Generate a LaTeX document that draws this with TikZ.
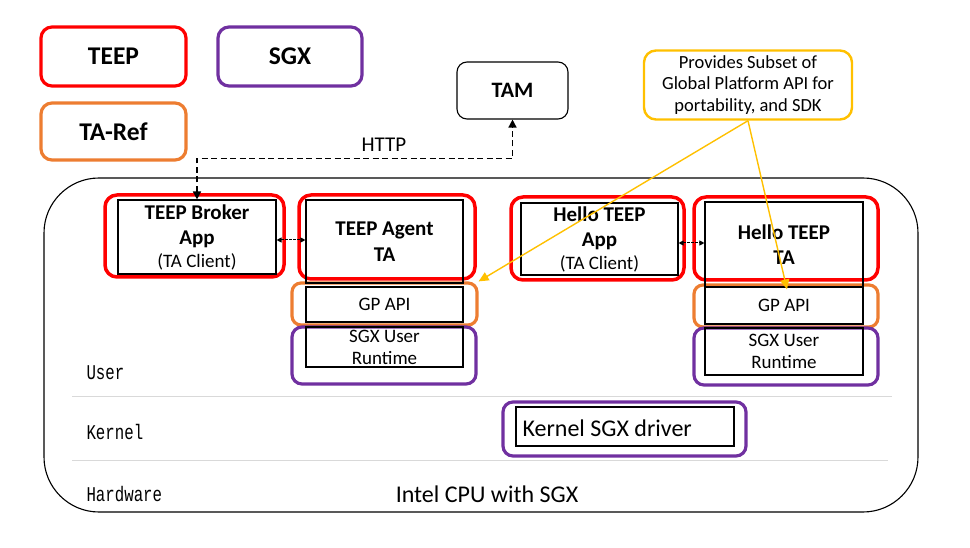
\documentclass[tikz,border=0pt]{standalone}
\usepackage{fontspec}
\setmainfont{Carlito}
\newfontfamily\lblfont[FakeStretch=0.75]{Liberation Mono}
\usetikzlibrary{arrows.meta}
\definecolor{teepred}{RGB}{255,0,0}
\definecolor{sgxpurple}{RGB}{112,48,160}
\definecolor{taorange}{RGB}{237,125,49}
\definecolor{noteyellow}{RGB}{255,192,0}
\definecolor{sepgray}{RGB}{217,217,217}
\tikzset{
  legendbox/.style={draw, rounded corners=11pt, line width=3.2pt, inner sep=0pt, font=\bfseries\fontsize{25.5}{30}\selectfont},
  redbox/.style={draw=teepred, rounded corners=12pt, line width=3.5pt, inner sep=0pt},
  orangebox/.style={draw=taorange, rounded corners=9pt, line width=3.2pt, inner sep=0pt},
  purplebox/.style={draw=sgxpurple, rounded corners=10pt, line width=3.2pt, inner sep=0pt},
  innerbox/.style={draw, line width=1.1pt, inner sep=0pt, align=center},
  titlefont/.style={font=\bfseries\fontsize{21}{25.5}\selectfont},
  bodyfont/.style={font=\fontsize{19}{22}\selectfont},
  lbl/.style={anchor=west, font=\lblfont\fontsize{21}{24}\selectfont},
  notearrow/.style={draw=noteyellow, line width=1.4pt, -{Triangle[length=10pt,width=9pt]}},
  linkarrow/.style={dash pattern=on 2.5pt off 1.5pt, line width=1pt, {Triangle[length=5pt,width=5pt]}-{Triangle[length=5pt,width=5pt]}},
}
\begin{document}
\begin{tikzpicture}[x=1pt,y=-1pt]
\useasboundingbox (0,0) rectangle (970,548);
% legend
\node[legendbox, draw=teepred, minimum width=145pt, minimum height=59pt] (lteep) at (113.5,56.5) {TEEP};
\node[legendbox, draw=sgxpurple, minimum width=144pt, minimum height=59pt] (lsgx) at (290,56.5) {SGX};
\node[legendbox, draw=taorange, minimum width=145pt, minimum height=57pt] (ltaref) at (113.5,131.5) {TA-Ref};
% TAM
\node[draw, rounded corners=10pt, line width=1.1pt, minimum width=111pt, minimum height=57pt, font=\bfseries\fontsize{22}{26}\selectfont] (tam) at (512.5,90.5) {TAM};
% note
\node[draw=noteyellow, rounded corners=12pt, line width=2.4pt, minimum width=208pt, minimum height=69pt, inner sep=0pt, align=center, font=\fontsize{18.5}{21.5}\selectfont] (note) at (748,85) {Provides Subset of\\Global Platform API for\\portability, and SDK};
% platform
\node[draw, rounded corners=55pt, line width=1.1pt, minimum width=874pt, minimum height=334pt] (platform) at (481,345) {};
\coordinate (s1a) at (72,396); \coordinate (s1b) at (892,396);
\coordinate (s2a) at (72,460); \coordinate (s2b) at (888,460);
\draw[sepgray, line width=1pt] (s1a) -- (s1b);
\draw[sepgray, line width=1pt] (s2a) -- (s2b);
\node[lbl] (luser) at (83,373) {User};
\node[lbl] (lkernel) at (83,432) {Kernel};
\node[lbl] (lhw) at (83,494) {Hardware};
\node[font=\fontsize{24}{28}\selectfont] (cpu) at (487,494) {Intel CPU with SGX};
% left stack
\node[redbox, minimum width=179pt, minimum height=82pt] (brokero) at (194.5,236) {};
\node[innerbox, titlefont, minimum width=158pt, minimum height=74pt] (brokerin) at (197,237) {TEEP Broker\\App\\[-3pt]\mdseries\fontsize{19}{22}\selectfont (TA Client)};
\node[redbox, minimum width=176pt, minimum height=84pt] (agento) at (387,237) {};
\node[orangebox, minimum width=185pt, minimum height=42pt] (gp1o) at (384.5,304) {};
\node[purplebox, minimum width=184pt, minimum height=57pt] (sgx1o) at (384,355.5) {};
\node[innerbox, titlefont, minimum width=157pt, minimum height=83pt] (agentin) at (384.5,241.5) {TEEP Agent\\TA};
\node[innerbox, bodyfont, minimum width=157pt, minimum height=35pt] (gp1in) at (384.5,304.5) {GP API};
\node[innerbox, bodyfont, minimum width=157pt, minimum height=40pt] (sgx1in) at (384.5,347) {SGX User\\Runtime};
% right stack
\node[redbox, minimum width=173pt, minimum height=83pt] (happo) at (597.5,238.5) {};
\node[innerbox, titlefont, minimum width=157pt, minimum height=72pt] (happin) at (599.5,239) {Hello TEEP\\App\\[-3pt]\mdseries\fontsize{19}{22}\selectfont (TA Client)};
\node[redbox, minimum width=184pt, minimum height=83pt] (htao) at (786,238.5) {};
\node[orangebox, minimum width=184pt, minimum height=42pt] (gp2o) at (786,306) {};
\node[purplebox, minimum width=184pt, minimum height=57pt] (sgx2o) at (786,356.5) {};
\node[innerbox, titlefont, minimum width=158pt, minimum height=85pt] (htain) at (784,244.5) {Hello TEEP\\TA};
\node[innerbox, bodyfont, minimum width=158pt, minimum height=37pt] (gp2in) at (784,305.5) {GP API};
\node[innerbox, bodyfont, minimum width=158pt, minimum height=47pt] (sgx2in) at (784,351.5) {SGX User\\Runtime};
% kernel driver
\node[purplebox, minimum width=243pt, minimum height=54pt] (kdrvo) at (624.5,429) {};
\node[innerbox, minimum width=218pt, minimum height=39pt] (kdrvin) at (625,426.5) {};
\node[anchor=west, font=\fontsize{24}{28}\selectfont] (kdrvtxt) at (519,428) {Kernel SGX driver};
% connectors
\draw[dash pattern=on 6pt off 3.5pt, line width=1.4pt, {Triangle[length=8pt,width=8pt]}-{Triangle[length=8pt,width=8pt]}] (brokerin.north) -- ++(0,-41) -| (tam.south);
\node[font=\fontsize{21}{24}\selectfont] (http) at (384,145) {HTTP};
\draw[linkarrow] ([yshift=-3pt]brokerin.east) -- ([yshift=-3pt]brokerin.east -| agentin.west);
\draw[linkarrow] ([yshift=-4pt]happin.east) -- ([yshift=-4pt]happin.east -| htain.west);
\draw[notearrow] (note.south) -- (gp1o.north east);
\draw[notearrow] (note.south) -- ([xshift=3pt,yshift=-3pt]gp2in.north);
\end{tikzpicture}
\end{document}
